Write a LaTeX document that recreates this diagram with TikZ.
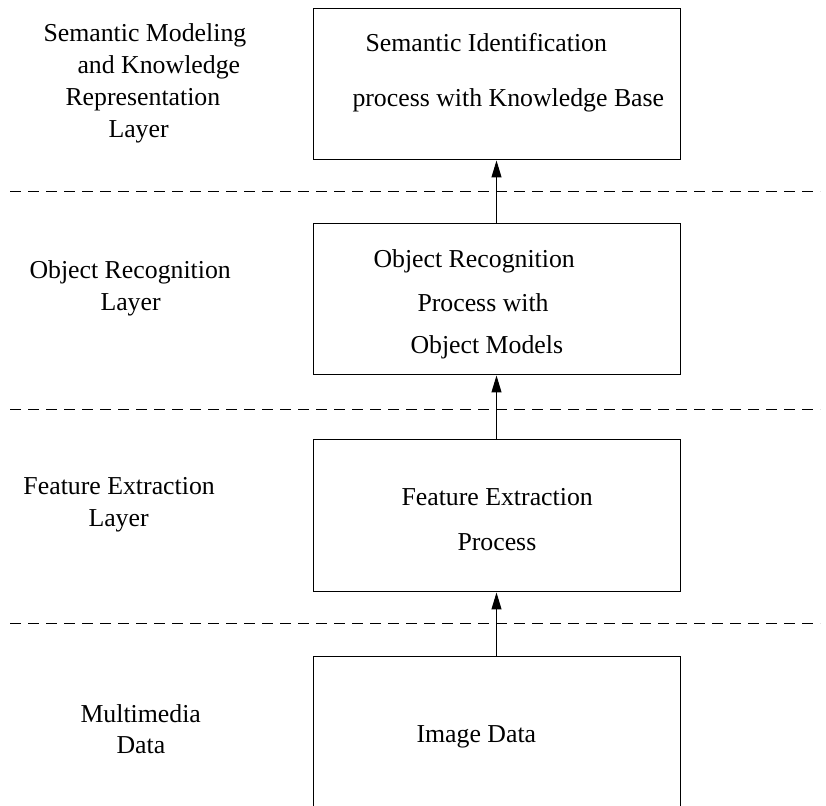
\documentclass[tikz,border=0pt]{standalone}
\usepackage{fontspec}
\setmainfont{Liberation Serif}
\usepackage{tikz}
\usetikzlibrary{positioning, arrows.meta}

\begin{document}
\begin{tikzpicture}[x=0.5pt,y=-0.5pt,line width=0.5pt,
    box/.style={draw,minimum width=183.5pt,minimum height=75.5pt,inner sep=0},
    txt/.style={anchor=base west,inner sep=0,font=\fontsize{12.9}{14}\selectfont},
    sep/.style={dashed,dash pattern=on 5.5pt off 3.5pt}]
        \clip (0,0) rectangle (826,806);
        \begin{scope}
        \node[box] (1) at (496.5,84.5) {};
        \node[box] (2) at (496.5,299.5) {};
        \node[box,minimum height=76pt] (3) at (496.5,516) {};
        \node[box,minimum height=86.5pt] (4) at (496.5,743.5) {};
        % Now you need to draw the arrows between the boxes
        \draw[-{Triangle[length=8.5pt,width=5pt]}] (4)--(3);
        \draw[-{Triangle[length=8.5pt,width=5pt]}] (3)--(2);
        \draw[-{Triangle[length=8.5pt,width=5pt]}] (2)--(1);
        \end{scope}
        \begin{scope}
        \coordinate (s1a) at (10,192); \coordinate (s1b) at (820,192);
        \coordinate (s2a) at (10,410); \coordinate (s2b) at (820,410);
        \coordinate (s3a) at (10,624); \coordinate (s3b) at (820,624);
        \draw[sep] (s1a)--(s1b);
        \draw[sep] (s2a)--(s2b);
        \draw[sep] (s3a)--(s3b);
        \end{scope}
        \begin{scope}
        \node[txt] (11) at (365,52) {Semantic Identification};
        \node[txt] (12) at (352,106.5) {process with Knowledge Base};
        \node[txt] (21) at (373,268) {Object Recognition};
        \node[txt] (22) at (417,312) {Process with};
        \node[txt] (23) at (410,354) {Object Models};
        \node[txt] (31) at (401,506) {Feature Extraction};
        \node[txt] (32) at (457,551) {Process};
        \node[txt] (41) at (416,743) {Image Data};
        \end{scope}
        \begin{scope}
        \node[txt] (l11) at (43,42) {Semantic Modeling};
        \node[txt] (l12) at (77,74) {and Knowledge};
        \node[txt] (l13) at (65,106) {Representation};
        \node[txt] (l14) at (108,138) {Layer};
        \node[txt] (l21) at (29,279) {Object Recognition};
        \node[txt] (l22) at (100,311) {Layer};
        \node[txt] (l31) at (23,495) {Feature Extraction};
        \node[txt] (l32) at (88,527) {Layer};
        \node[txt] (l41) at (80,723) {Multimedia};
        \node[txt] (l42) at (116,754) {Data};
        \end{scope}
    \end{tikzpicture}
\end{document}
